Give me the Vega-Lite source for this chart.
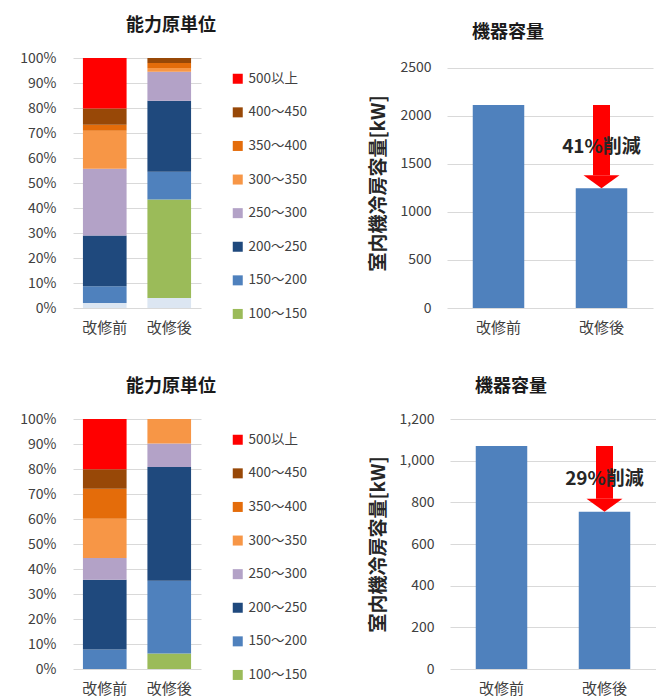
{
  "$schema": "https://vega.github.io/schema/vega-lite/v6.json",
  "padding": {"left": 19, "top": 17, "right": 0, "bottom": 0},
  "background": "white",
  "config": {
    "font": "Noto Sans CJK JP",
    "view": {"stroke": null},
    "axis": {"labelFont": "Noto Sans CJK JP", "labelColor": "#404040", "domain": false, "ticks": false, "gridColor": "#D9D9D9", "gridWidth": 1},
    "title": {"font": "Noto Sans CJK JP", "fontSize": 18, "fontWeight": "bold", "color": "#1a1a1a", "anchor": "middle"}
  },
  "datasets": {
    "mix": [
      {"panel": "上", "period": "改修前", "range": "100未満", "pct": 2.0},
      {"panel": "上", "period": "改修前", "range": "150～200", "pct": 6.7},
      {"panel": "上", "period": "改修前", "range": "200～250", "pct": 20.3},
      {"panel": "上", "period": "改修前", "range": "250～300", "pct": 26.7},
      {"panel": "上", "period": "改修前", "range": "300～350", "pct": 15.2},
      {"panel": "上", "period": "改修前", "range": "350～400", "pct": 2.4},
      {"panel": "上", "period": "改修前", "range": "400～450", "pct": 6.5},
      {"panel": "上", "period": "改修前", "range": "500以上", "pct": 20.2},
      {"panel": "上", "period": "改修後", "range": "100未満", "pct": 4.0},
      {"panel": "上", "period": "改修後", "range": "100～150", "pct": 39.4},
      {"panel": "上", "period": "改修後", "range": "150～200", "pct": 11.1},
      {"panel": "上", "period": "改修後", "range": "200～250", "pct": 28.4},
      {"panel": "上", "period": "改修後", "range": "250～300", "pct": 11.6},
      {"panel": "上", "period": "改修後", "range": "300～350", "pct": 1.5},
      {"panel": "上", "period": "改修後", "range": "350～400", "pct": 2.0},
      {"panel": "上", "period": "改修後", "range": "400～450", "pct": 2.0},
      {"panel": "下", "period": "改修前", "range": "150～200", "pct": 7.8},
      {"panel": "下", "period": "改修前", "range": "200～250", "pct": 27.9},
      {"panel": "下", "period": "改修前", "range": "250～300", "pct": 8.7},
      {"panel": "下", "period": "改修前", "range": "300～350", "pct": 15.7},
      {"panel": "下", "period": "改修前", "range": "350～400", "pct": 12.0},
      {"panel": "下", "period": "改修前", "range": "400～450", "pct": 7.8},
      {"panel": "下", "period": "改修前", "range": "500以上", "pct": 20.1},
      {"panel": "下", "period": "改修後", "range": "100～150", "pct": 6.2},
      {"panel": "下", "period": "改修後", "range": "150～200", "pct": 29.1},
      {"panel": "下", "period": "改修後", "range": "200～250", "pct": 45.5},
      {"panel": "下", "period": "改修後", "range": "250～300", "pct": 9.4},
      {"panel": "下", "period": "改修後", "range": "300～350", "pct": 9.8}
    ],
    "cap": [
      {"panel": "上", "period": "改修前", "kw": 2110},
      {"panel": "上", "period": "改修後", "kw": 1245},
      {"panel": "下", "period": "改修前", "kw": 1070},
      {"panel": "下", "period": "改修後", "kw": 755}
    ],
    "arrow": [
      {"panel": "上", "period": "改修後", "from": 2110, "to": 1245, "label": "41%削減"},
      {"panel": "下", "period": "改修後", "from": 1070, "to": 755, "label": "29%削減"}
    ]
  },
  "resolve": {"scale": {"color": "independent"}, "legend": {"color": "independent"}},
  "spacing": 43,
  "vconcat": [
    {
      "spacing": 153,
      "hconcat": [
        {
          "width": 128, "height": 250,
          "title": {"text": "能力原単位", "frame": "group", "offset": 16, "dx": 34},
          "data": {"name": "mix"},
          "transform": [{"filter": "datum.panel === '上'"}],
          "mark": {"type": "bar"},
          "encoding": {
            "x": {"field": "period", "type": "nominal", "sort": ["改修前", "改修後"],
              "scale": {"paddingInner": 0.323, "paddingOuter": 0.154},
              "axis": {"title": null, "labelAngle": 0, "labelFontSize": 15, "labelPadding": 12, "grid": false}},
            "y": {"field": "pct", "type": "quantitative", "stack": "zero",
              "scale": {"domain": [0, 100]},
              "axis": {"title": null, "values": [0, 10, 20, 30, 40, 50, 60, 70, 80, 90, 100], "labelExpr": "datum.value + '%'", "labelFontSize": 14, "labelPadding": 17}},
            "color": {"field": "range", "type": "nominal",
              "scale": {"domain": ["100未満", "100～150", "150～200", "200～250", "250～300", "300～350", "350～400", "400～450", "500以上"],
                "range": ["#DCE6F2", "#9BBB59", "#4F81BD", "#1F497D", "#B3A2C7", "#F79646", "#E46C0A", "#984807", "#FF0000"]},
              "legend": {"title": null, "orient": "none", "legendX": 158, "legendY": 14, "padding": 0,
                "values": ["500以上", "400～450", "350～400", "300～350", "250～300", "200～250", "150～200", "100～150"],
                "symbolType": "square", "symbolSize": 100, "symbolStrokeWidth": 0, "labelFontSize": 13.5, "labelColor": "#404040", "labelOffset": 4, "rowPadding": 18.6}},
            "order": {"field": "range", "sort": "ascending"}
          }
        },
        {
          "width": 206, "height": 250,
          "title": {"text": "機器容量", "frame": "group", "offset": 16, "dx": -42},
          "encoding": {
            "x": {"field": "period", "type": "nominal", "sort": ["改修前", "改修後"],
              "scale": {"domain": ["改修前", "改修後"], "paddingInner": 0.5, "paddingOuter": 0.25},
              "axis": {"title": null, "labelAngle": 0, "labelFontSize": 15, "labelPadding": 12, "grid": false}}
          },
          "layer": [
            {
              "data": {"name": "cap"},
              "transform": [{"filter": "datum.panel === '上'"}],
              "mark": {"type": "bar", "color": "#4F81BD"},
              "encoding": {
                "y": {"field": "kw", "type": "quantitative", "scale": {"domain": [0, 2500]},
                  "axis": {"title": "室内機冷房容量[kW]", "titleFontSize": 19, "titleFontWeight": "bold", "titleColor": "#262626", "titlePadding": 11,
                    "values": [0, 500, 1000, 1500, 2000, 2500], "format": "d", "labelFontSize": 14, "labelPadding": 16}}
              }
            },
            {
              "data": {"name": "arrow"},
              "transform": [{"filter": "datum.panel === '上'"}],
              "mark": {"type": "rule", "color": "#FF0000", "strokeWidth": 17, "y2Offset": -13},
              "encoding": {
                "y": {"field": "from", "type": "quantitative"},
                "y2": {"field": "to"}
              }
            },
            {
              "data": {"name": "arrow"},
              "transform": [{"filter": "datum.panel === '上'"}],
              "mark": {"type": "point", "shape": "M-1,-0.36L1,-0.36L0,0.36Z", "size": 1296, "filled": true, "color": "#FF0000", "opacity": 1, "yOffset": -6.5},
              "encoding": {
                "y": {"field": "to", "type": "quantitative"}
              }
            },
            {
              "data": {"name": "arrow"},
              "transform": [{"filter": "datum.panel === '上'"}, {"calculate": "(datum.from + datum.to) / 2", "as": "mid"}],
              "mark": {"type": "text", "fontSize": 19, "fontWeight": "bold", "color": "#262626"},
              "encoding": {
                "y": {"field": "mid", "type": "quantitative"},
                "text": {"field": "label"}
              }
            }
          ]
        }
      ]
    },
    {
      "spacing": 153,
      "hconcat": [
        {
          "width": 128, "height": 250,
          "title": {"text": "能力原単位", "frame": "group", "offset": 16, "dx": 34},
          "data": {"name": "mix"},
          "transform": [{"filter": "datum.panel === '下'"}],
          "mark": {"type": "bar"},
          "encoding": {
            "x": {"field": "period", "type": "nominal", "sort": ["改修前", "改修後"],
              "scale": {"paddingInner": 0.323, "paddingOuter": 0.154},
              "axis": {"title": null, "labelAngle": 0, "labelFontSize": 15, "labelPadding": 12, "grid": false}},
            "y": {"field": "pct", "type": "quantitative", "stack": "zero",
              "scale": {"domain": [0, 100]},
              "axis": {"title": null, "values": [0, 10, 20, 30, 40, 50, 60, 70, 80, 90, 100], "labelExpr": "datum.value + '%'", "labelFontSize": 14, "labelPadding": 17}},
            "color": {"field": "range", "type": "nominal",
              "scale": {"domain": ["100未満", "100～150", "150～200", "200～250", "250～300", "300～350", "350～400", "400～450", "500以上"],
                "range": ["#DCE6F2", "#9BBB59", "#4F81BD", "#1F497D", "#B3A2C7", "#F79646", "#E46C0A", "#984807", "#FF0000"]},
              "legend": {"title": null, "orient": "none", "legendX": 158, "legendY": 14, "padding": 0,
                "values": ["500以上", "400～450", "350～400", "300～350", "250～300", "200～250", "150～200", "100～150"],
                "symbolType": "square", "symbolSize": 100, "symbolStrokeWidth": 0, "labelFontSize": 13.5, "labelColor": "#404040", "labelOffset": 4, "rowPadding": 18.6}},
            "order": {"field": "range", "sort": "ascending"}
          }
        },
        {
          "width": 206, "height": 250,
          "title": {"text": "機器容量", "frame": "group", "offset": 16, "dx": -42},
          "encoding": {
            "x": {"field": "period", "type": "nominal", "sort": ["改修前", "改修後"],
              "scale": {"domain": ["改修前", "改修後"], "paddingInner": 0.5, "paddingOuter": 0.25},
              "axis": {"title": null, "labelAngle": 0, "labelFontSize": 15, "labelPadding": 12, "grid": false}}
          },
          "layer": [
            {
              "data": {"name": "cap"},
              "transform": [{"filter": "datum.panel === '下'"}],
              "mark": {"type": "bar", "color": "#4F81BD"},
              "encoding": {
                "y": {"field": "kw", "type": "quantitative", "scale": {"domain": [0, 1200]},
                  "axis": {"title": "室内機冷房容量[kW]", "titleFontSize": 19, "titleFontWeight": "bold", "titleColor": "#262626", "titlePadding": 11,
                    "values": [0, 200, 400, 600, 800, 1000, 1200], "format": ",d", "labelFontSize": 14, "labelPadding": 16}}
              }
            },
            {
              "data": {"name": "arrow"},
              "transform": [{"filter": "datum.panel === '下'"}],
              "mark": {"type": "rule", "color": "#FF0000", "strokeWidth": 17, "y2Offset": -13},
              "encoding": {
                "y": {"field": "from", "type": "quantitative"},
                "y2": {"field": "to"}
              }
            },
            {
              "data": {"name": "arrow"},
              "transform": [{"filter": "datum.panel === '下'"}],
              "mark": {"type": "point", "shape": "M-1,-0.36L1,-0.36L0,0.36Z", "size": 1296, "filled": true, "color": "#FF0000", "opacity": 1, "yOffset": -6.5},
              "encoding": {
                "y": {"field": "to", "type": "quantitative"}
              }
            },
            {
              "data": {"name": "arrow"},
              "transform": [{"filter": "datum.panel === '下'"}, {"calculate": "(datum.from + datum.to) / 2", "as": "mid"}],
              "mark": {"type": "text", "fontSize": 19, "fontWeight": "bold", "color": "#262626"},
              "encoding": {
                "y": {"field": "mid", "type": "quantitative"},
                "text": {"field": "label"}
              }
            }
          ]
        }
      ]
    }
  ]
}
